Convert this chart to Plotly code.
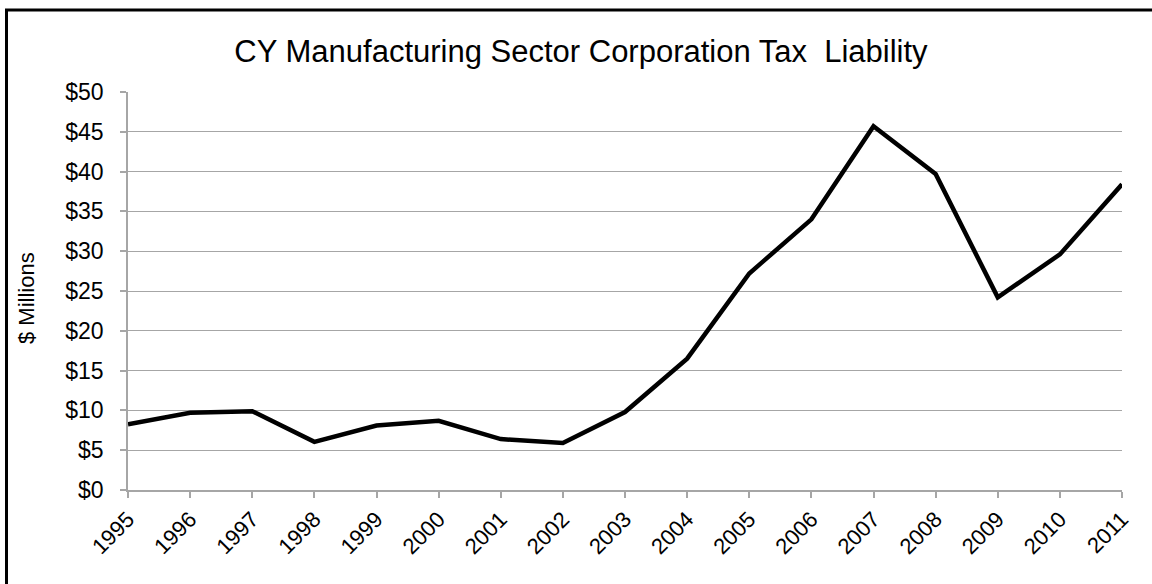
import plotly.graph_objects as go

years = ["1995", "1996", "1997", "1998", "1999", "2000", "2001", "2002", "2003",
         "2004", "2005", "2006", "2007", "2008", "2009", "2010", "2011"]
liability = [8.25, 9.7, 9.9, 6.05, 8.1, 8.7, 6.4, 5.9, 9.8,
             16.5, 27.2, 34.0, 45.7, 39.7, 24.2, 29.6, 38.4]
ytick_vals = [0, 5, 10, 15, 20, 25, 30, 35, 40, 45, 50]
ytick_text = ["$" + str(v) for v in ytick_vals]

W, H = 1152, 584
L, T = 128, 92
PW, PH = 994, 398
R, B = W - L - PW, H - T - PH

def px_x(p):
    return (p - L) / PW

def px_y(p):
    return (T + PH - p) / PH

fig = go.Figure()
fig.add_trace(go.Scatter(
    x=years, y=liability, mode="lines",
    line=dict(color="black", width=4.5),
    hoverinfo="skip", showlegend=False,
))

fig.update_layout(
    width=W, height=H,
    margin=dict(l=L, r=R, t=T, b=B),
    paper_bgcolor="white", plot_bgcolor="white",
    font=dict(family="Liberation Sans, Arial, sans-serif", color="black", size=22),
    title=dict(text="CY Manufacturing Sector Corporation Tax  Liability",
               x=581 / W, xanchor="center", y=1 - 51 / H, yanchor="middle",
               font=dict(size=31, color="black")),
    xaxis=dict(
        type="category", range=[0, 16], tickangle=-45,
        showgrid=False, showline=True, linecolor="#A6A6A6", linewidth=1.5,
        ticks="outside", ticklen=6, tickcolor="#A6A6A6", tickwidth=1.5,
        tickfont=dict(size=22), zeroline=False,
    ),
    yaxis=dict(
        range=[0, 50], tickvals=ytick_vals, ticktext=ytick_text,
        showgrid=True, gridcolor="#A6A6A6", gridwidth=1.3,
        showline=True, linecolor="#A6A6A6", linewidth=1.5,
        ticks="outside", ticklen=6, tickcolor="#A6A6A6", tickwidth=1.5,
        tickfont=dict(size=23), zeroline=False, ticklabelstandoff=12,
    ),
    annotations=[dict(text="$ Millions", textangle=-90, showarrow=False,
                      xref="paper", yref="paper", x=px_x(26), y=px_y(298),
                      xanchor="center", yanchor="middle",
                      font=dict(size=22, color="black"))],
    shapes=[dict(type="rect", xref="paper", yref="paper",
                 x0=px_x(6.5), x1=px_x(1170), y0=px_y(600), y1=px_y(10),
                 line=dict(color="black", width=3), fillcolor="rgba(0,0,0,0)",
                 layer="above")],
)

fig.write_html(
    "out.html",
    config={"displayModeBar": False},
    post_script="document.body.style.margin='0';document.body.style.overflow='hidden';",
)
